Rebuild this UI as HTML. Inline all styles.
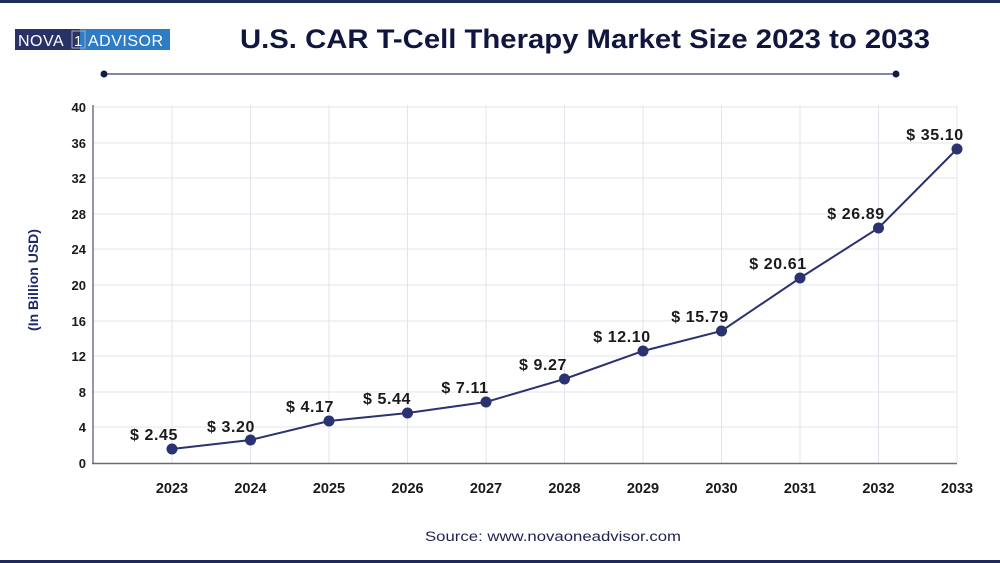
<!DOCTYPE html>
<html><head><meta charset="utf-8"><style>
html,body{margin:0;padding:0;background:#fff;}
svg{display:block;font-family:"Liberation Sans",Arial,sans-serif;}
</style></head><body>
<svg width="1000" height="563" viewBox="0 0 1000 563" xmlns="http://www.w3.org/2000/svg">
<rect x="0" y="0" width="1000" height="3" fill="#1e2a5a"/>
<rect x="0" y="560" width="1000" height="3" fill="#1e2a5a"/>
<rect x="15" y="29" width="65" height="21" fill="#283266"/>
<rect x="80" y="29" width="90" height="21" fill="#2d7cc4"/>
<rect x="72" y="31" width="13" height="17" fill="none" stroke="#aab" stroke-width="1"/>
<text x="18" y="46" font-size="16" fill="#fff" letter-spacing="0.5">NOVA</text>
<text x="74" y="46" font-size="15" fill="#fff">1</text>
<text x="88" y="46" font-size="16" fill="#fff" letter-spacing="0.5">ADVISOR</text>
<text x="240" y="48" font-size="27" font-weight="bold" fill="#10163d" textLength="690" lengthAdjust="spacingAndGlyphs">U.S. CAR T-Cell Therapy Market Size 2023 to 2033</text>
<line x1="104" y1="74" x2="896" y2="74" stroke="#5a5f90" stroke-width="1.5"/>
<circle cx="104" cy="74" r="3.5" fill="#131a45"/>
<circle cx="896" cy="74" r="3.5" fill="#131a45"/>
<g stroke="#e3e3ee" stroke-width="1">
<line x1="93" y1="107" x2="957" y2="107"/><line x1="93" y1="143" x2="957" y2="143"/><line x1="93" y1="178" x2="957" y2="178"/><line x1="93" y1="214" x2="957" y2="214"/><line x1="93" y1="249" x2="957" y2="249"/><line x1="93" y1="285" x2="957" y2="285"/><line x1="93" y1="321" x2="957" y2="321"/><line x1="93" y1="356" x2="957" y2="356"/><line x1="93" y1="392" x2="957" y2="392"/><line x1="93" y1="427" x2="957" y2="427"/>
<line x1="172" y1="105" x2="172" y2="463"/><line x1="250.5" y1="105" x2="250.5" y2="463"/><line x1="329" y1="105" x2="329" y2="463"/><line x1="407.5" y1="105" x2="407.5" y2="463"/><line x1="486" y1="105" x2="486" y2="463"/><line x1="564.5" y1="105" x2="564.5" y2="463"/><line x1="643" y1="105" x2="643" y2="463"/><line x1="721.5" y1="105" x2="721.5" y2="463"/><line x1="800" y1="105" x2="800" y2="463"/><line x1="878.5" y1="105" x2="878.5" y2="463"/><line x1="957" y1="105" x2="957" y2="463"/>
</g>
<line x1="93" y1="105" x2="93" y2="464" stroke="#7a7088" stroke-width="1.5"/>
<line x1="92" y1="463.5" x2="957" y2="463.5" stroke="#6a6a78" stroke-width="1.5"/>
<g font-size="13" font-weight="bold" fill="#1a1a1a" text-anchor="end">
<text x="86" y="468">0</text><text x="86" y="432">4</text><text x="86" y="397">8</text><text x="86" y="361">12</text><text x="86" y="326">16</text><text x="86" y="290">20</text><text x="86" y="254">24</text><text x="86" y="219">28</text><text x="86" y="183">32</text><text x="86" y="148">36</text><text x="86" y="112">40</text>
</g>
<text transform="translate(38,280) rotate(-90)" font-size="14" font-weight="bold" fill="#1e2a6a" text-anchor="middle">(In Billion USD)</text>
<g font-size="14.5" font-weight="bold" fill="#1a1a1a" text-anchor="middle">
<text x="172" y="493">2023</text><text x="250.5" y="493">2024</text><text x="329" y="493">2025</text><text x="407.5" y="493">2026</text><text x="486" y="493">2027</text><text x="564.5" y="493">2028</text><text x="643" y="493">2029</text><text x="721.5" y="493">2030</text><text x="800" y="493">2031</text><text x="878.5" y="493">2032</text><text x="957" y="493">2033</text>
</g>
<polyline fill="none" stroke="#2a3270" stroke-width="2" points="172,449 250.5,440 329,421 407.5,413 486,402 564.5,379 643,351 721.5,331 800,278 878.5,228 957,149"/>
<g fill="#2a3270">
<circle cx="172" cy="449" r="5.5"/><circle cx="250.5" cy="440" r="5.5"/><circle cx="329" cy="421" r="5.5"/><circle cx="407.5" cy="413" r="5.5"/><circle cx="486" cy="402" r="5.5"/><circle cx="564.5" cy="379" r="5.5"/><circle cx="643" cy="351" r="5.5"/><circle cx="721.5" cy="331" r="5.5"/><circle cx="800" cy="278" r="5.5"/><circle cx="878.5" cy="228" r="5.5"/><circle cx="957" cy="149" r="5.5"/>
</g>
<g font-size="16" font-weight="bold" fill="#1a1a1a" text-anchor="middle" letter-spacing="0.6">
<text x="154" y="440">$ 2.45</text><text x="231" y="432">$ 3.20</text><text x="310" y="412">$ 4.17</text><text x="387" y="404">$ 5.44</text><text x="465" y="393">$ 7.11</text><text x="543" y="370">$ 9.27</text><text x="622" y="342">$ 12.10</text><text x="700" y="322">$ 15.79</text><text x="778" y="269">$ 20.61</text><text x="856" y="219">$ 26.89</text><text x="935" y="140">$ 35.10</text>
</g>
<text x="553" y="541" font-size="13.5" fill="#1e2250" text-anchor="middle" textLength="256" lengthAdjust="spacingAndGlyphs">Source: www.novaoneadvisor.com</text>
</svg>
</body></html>
